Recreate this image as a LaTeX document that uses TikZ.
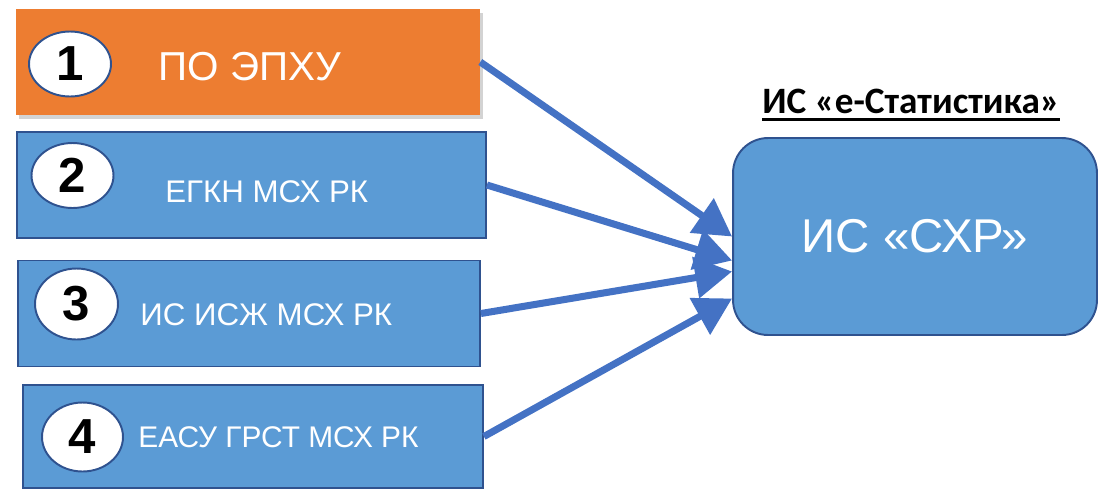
\documentclass[tikz,border=0pt]{standalone}
\usepackage{fontspec}
\setmainfont{Liberation Sans}
\newfontfamily\labelfont{Carlito}
\usepackage{tikz}
\usetikzlibrary{arrows.meta,shapes.geometric,shadows}

\definecolor{orangebox}{HTML}{ED7D31}
\definecolor{bluebox}{HTML}{5B9BD5}
\definecolor{blueline}{HTML}{2F528F}
\definecolor{bluearrow}{HTML}{4472C4}

\begin{document}
\begin{tikzpicture}[x=0.02cm,y=-0.02cm,
    box/.style={rectangle, minimum height=2.12cm, inner sep=0},
    num/.style={ellipse, draw=blueline, line width=1.1pt, fill=white, inner sep=0,
        minimum width=1.64cm, minimum height=1.3cm, font=\fontsize{28}{28}\selectfont\bfseries},
    txt/.style={anchor=base west, inner sep=0, text=white, font=\fontsize{17.8}{18}\selectfont},
    feed/.style={line width=4pt, bluearrow, -{Triangle[length=21pt,width=23pt]}}]
        \useasboundingbox (0,0) rectangle (1102,491);

        % sources
        \node (b1) at (248,62) [box, minimum width=9.28cm, fill=orangebox,
            drop shadow={shadow xshift=1.5pt, shadow yshift=-2pt, opacity=0.35}] {};
        \node (b2) at (251.5,185) [box, minimum width=9.38cm, fill=bluebox, draw=blueline, line width=1.1pt] {};
        \node (b3) at (249,313.5) [box, minimum width=9.24cm, fill=bluebox, draw=blueline, line width=1.1pt] {};
        \node (b4) at (253,436.5) [box, minimum width=9.2cm, minimum height=2.06cm, fill=bluebox, draw=blueline, line width=1.1pt] {};

        \node (n1) at (70,64) [num] {1};
        \node (n2) at (72.5,175.5) [num] {2};
        \node (n3) at (76.5,304) [num, minimum width=1.66cm, minimum height=1.42cm] {3};
        \node (n4) at (82.5,437) [num, minimum width=1.62cm, minimum height=1.38cm] {4};

        \node (t1) at (158,80) [txt, font=\fontsize{23}{23}\selectfont] {ПО ЭПХУ};
        \node (t2) at (165,202) [txt] {ЕГКН МСХ РК};
        \node (t3) at (140,325) [txt] {ИС ИСЖ МСХ РК};
        \node (t4) at (138,447) [txt, font=\fontsize{17}{17}\selectfont] {ЕАСУ ГРСТ МСХ РК};

        % target
        \node (sys) at (915,236.5) [rectangle, rounded corners=0.7cm, minimum width=7.28cm, minimum height=3.94cm,
            fill=bluebox, draw=blueline, line width=1.1pt, text=white, font=\fontsize{27}{27}\selectfont] {ИС «СХР»};
        \node (lbl) at (762,113) [anchor=base west, inner sep=0,
            font=\labelfont\bfseries\fontsize{21.2}{22}\selectfont] {ИС «е-Статистика»};
        \draw[line width=1.6pt] ([yshift=-3.7pt]lbl.base west) -- ([yshift=-3.7pt]lbl.base east);

        \draw[feed] (b1.east) -- (sys.west);
        \draw[feed] (b2.east) -- ([yshift=-0.48cm]sys.west);
        \draw[feed] (b3.east) -- ([yshift=-0.70cm]sys.west);
        \draw[feed] (b4.east) -- ([yshift=-1.24cm]sys.west);
    \end{tikzpicture}
\end{document}
